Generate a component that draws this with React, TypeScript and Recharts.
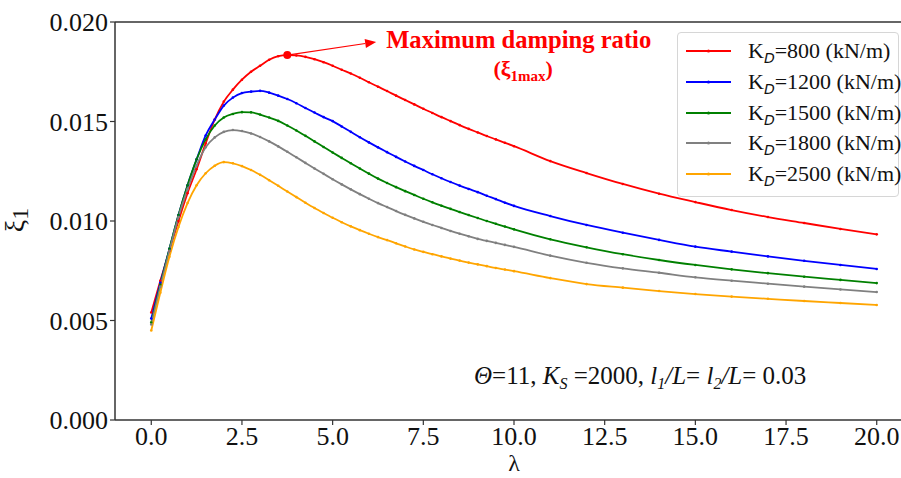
import { LineChart, Line, XAxis, YAxis, ReferenceLine, ReferenceDot, Legend } from "recharts";

// damping ratio ξ1 against λ for several damper stiffnesses K_D
const LAMBDA = [
  0, 0.25, 0.5, 0.75, 1, 1.25, 1.5, 1.75, 2, 2.25, 2.5, 2.75, 3, 3.25, 3.5, 3.75, 4, 4.25, 4.5, 4.75,
  5, 5.25, 5.5, 5.75, 6, 6.25, 6.5, 6.75, 7, 7.25, 7.5, 7.75, 8, 8.25, 8.5, 8.75, 9, 9.25, 9.5, 9.75,
  10, 11, 12, 13, 14, 15, 16, 17, 18, 19, 20,
];

const KD_800 = [
  0.0054, 0.007, 0.0085, 0.01, 0.0114, 0.0126, 0.0139, 0.0151, 0.016, 0.0166, 0.0171, 0.0175, 0.0178, 0.0181,
  0.01828, 0.01834, 0.01832, 0.01825, 0.01813, 0.01798, 0.0178, 0.0176, 0.01741, 0.0172, 0.01697, 0.01675,
  0.01653, 0.0163, 0.01608, 0.01586, 0.01564, 0.01543, 0.01522, 0.01502, 0.01482, 0.01463, 0.01445, 0.01427,
  0.0141, 0.01393, 0.01376, 0.01301, 0.01241, 0.01186, 0.01137, 0.01095, 0.01055, 0.0102, 0.0099, 0.0096, 0.00933,
];
const KD_1200 = [
  0.0051, 0.0069, 0.0086, 0.0103, 0.0118, 0.0131, 0.0143, 0.0151, 0.0158, 0.0162, 0.01643, 0.0165, 0.01654,
  0.01645, 0.0163, 0.01613, 0.01592, 0.01568, 0.01545, 0.01522, 0.01502, 0.01475, 0.01448, 0.01421, 0.01395,
  0.0137, 0.01346, 0.01322, 0.01299, 0.01277, 0.01256, 0.01235, 0.01215, 0.01196, 0.01178, 0.01161, 0.01145,
  0.01127, 0.0111, 0.01092, 0.01076, 0.01025, 0.0098, 0.00941, 0.00905, 0.00871, 0.00846, 0.00822, 0.008, 0.00779, 0.00759,
];
const KD_1500 = [
  0.0049, 0.0068, 0.0086, 0.0103, 0.0118, 0.0131, 0.0141, 0.0148, 0.0152, 0.01538, 0.01547, 0.01546, 0.01535,
  0.0152, 0.01503, 0.0148, 0.01455, 0.01428, 0.014, 0.01372, 0.01344, 0.01317, 0.0129, 0.01264, 0.01238, 0.01213,
  0.01191, 0.0117, 0.0115, 0.01131, 0.01112, 0.01094, 0.01077, 0.01061, 0.01045, 0.0103, 0.01015, 0.01, 0.00986,
  0.00972, 0.00958, 0.00908, 0.00868, 0.00833, 0.00804, 0.00779, 0.00757, 0.00738, 0.0072, 0.00704, 0.00688,
];
const KD_1800 = [
  0.0048, 0.0067, 0.0085, 0.0102, 0.0116, 0.0128, 0.0137, 0.0142, 0.01448, 0.01457, 0.01452, 0.0144, 0.01422,
  0.014, 0.01375, 0.01348, 0.0132, 0.01292, 0.01264, 0.01237, 0.0121, 0.01184, 0.01159, 0.01135, 0.01112, 0.0109,
  0.0107, 0.0105, 0.01031, 0.01013, 0.00996, 0.0098, 0.00965, 0.0095, 0.00936, 0.00923, 0.0091, 0.009, 0.0089,
  0.0088, 0.0087, 0.00826, 0.0079, 0.00762, 0.0074, 0.00717, 0.007, 0.00685, 0.0067, 0.00656, 0.00643,
];
const KD_2500 = [
  0.0045, 0.0064, 0.0082, 0.0097, 0.0109, 0.0118, 0.0124, 0.01278, 0.01296, 0.0129, 0.01276, 0.01256, 0.01232,
  0.01205, 0.01177, 0.01148, 0.0112, 0.01092, 0.01065, 0.0104, 0.01016, 0.00994, 0.00973, 0.00954, 0.00936,
  0.00919, 0.00904, 0.00888, 0.00872, 0.00857, 0.00845, 0.00833, 0.00822, 0.00811, 0.00801, 0.00791, 0.00782,
  0.00773, 0.00764, 0.00756, 0.00748, 0.00713, 0.00683, 0.00665, 0.00648, 0.00633, 0.0062, 0.00609, 0.00598, 0.00588, 0.00578,
];

const SERIES = [
  { key: "kd800", kd: "800", color: "#ff0000", values: KD_800 },
  { key: "kd1200", kd: "1200", color: "#0000ff", values: KD_1200 },
  { key: "kd1500", kd: "1500", color: "#008000", values: KD_1500 },
  { key: "kd1800", kd: "1800", color: "#808080", values: KD_1800 },
  { key: "kd2500", kd: "2500", color: "#ffa500", values: KD_2500 },
];

const X_TICKS = [0, 2.5, 5, 7.5, 10, 12.5, 15, 17.5, 20];
const Y_TICKS = [0, 0.005, 0.01, 0.015, 0.02];

// peak of the K_D=800 curve and where the callout arrow ends
const PEAK = { lam: 3.75, xi: 0.01834 };
const ARROW_END = { lam: 6.2, xi: 0.019 };

// unquoted family names: the quoted form fell back to sans here
const SERIF = "Liberation Serif, Times New Roman, serif";
const MATH_SANS = "DejaVu Sans, sans-serif";
const AXIS = "#333";

const rows = LAMBDA.map((lam, i) => {
  const r: Record<string, number> = { lam };
  SERIES.forEach((s) => (r[s.key] = s.values[i]));
  return r;
});

const seriesOrder = (item: any) => SERIES.findIndex((s) => s.key === item.dataKey);

function PeakArrow(props: any) {
  const { x1, y1, x2, y2 } = props;
  const a = Math.atan2(y2 - y1, x2 - x1);
  const len = 11;
  const half = 4.5;
  const bx = x2 - len * Math.cos(a);
  const by = y2 - len * Math.sin(a);
  const pts = [
    `${x2},${y2}`,
    `${bx - half * Math.sin(a)},${by + half * Math.cos(a)}`,
    `${bx + half * Math.sin(a)},${by - half * Math.cos(a)}`,
  ].join(" ");
  return (
    <g>
      <line x1={x1} y1={y1} x2={bx} y2={by} stroke="#ff0000" strokeWidth={1.2} />
      <polygon points={pts} fill="#ff0000" />
      <text x={x2 + 10} y={y2 + 6} fill="#ff0000" style={{ fontFamily: SERIF }} fontWeight="bold" fontSize={24.6}>
        Maximum damping ratio
      </text>
      <text x={x2 + 147} y={y2 + 34} fill="#ff0000" style={{ fontFamily: SERIF }} fontWeight="bold" fontSize={22} textAnchor="middle">
        (ξ<tspan fontSize={15} dy={5}>1max</tspan>
        <tspan dy={-5}>)</tspan>
      </text>
    </g>
  );
}

function KdLegend({ payload }: any) {
  return (
    <div
      style={{
        width: 222,
        boxSizing: "border-box",
        border: "1px solid #d6d6d6",
        borderRadius: 4,
        background: "#fff",
        padding: "3px 0 7px 0",
        fontFamily: SERIF,
        fontSize: 22,
        color: "#111",
      }}
    >
      {(payload || []).map((entry: any) => (
        <div key={entry.value} style={{ display: "flex", alignItems: "center", height: 30.7, whiteSpace: "nowrap" }}>
          <svg width={70} height={10} style={{ flex: "none" }}>
            <line x1={8} x2={53} y1={5} y2={5} stroke={entry.color} strokeWidth={2} />
            <circle cx={30.5} cy={5} r={1.6} fill={entry.color} />
          </svg>
          <span>
            K
            <span style={{ fontFamily: MATH_SANS, fontStyle: "italic", fontSize: 14, position: "relative", top: 5 }}>D</span>
            ={entry.value} (kN/m)
          </span>
        </div>
      ))}
    </div>
  );
}

const tickStyle = { fill: "#111", fontSize: 26, style: { fontFamily: SERIF } };

export default function App() {
  return (
    <div style={{ position: "absolute", left: 0, top: 0, width: 901, height: 478, overflow: "hidden", background: "#fff" }}>
      <LineChart width={913} height={478} data={rows} margin={{ top: 22, right: 0, bottom: 0, left: 0 }}>
        <XAxis
          dataKey="lam"
          type="number"
          domain={[-1, 21]}
          ticks={X_TICKS}
          tickFormatter={(v) => Number(v).toFixed(1)}
          height={58}
          tickSize={5}
          tickMargin={2}
          axisLine={{ stroke: AXIS, strokeWidth: 1.5 }}
          tickLine={{ stroke: AXIS, strokeWidth: 1.2 }}
          tick={tickStyle}
        />
        <YAxis
          type="number"
          domain={[0, 0.02]}
          ticks={Y_TICKS}
          tickFormatter={(v) => Number(v).toFixed(3)}
          width={115}
          tickSize={5}
          tickMargin={2}
          axisLine={{ stroke: AXIS, strokeWidth: 1.5 }}
          tickLine={{ stroke: AXIS, strokeWidth: 1.2 }}
          tick={tickStyle}
        />
        <ReferenceLine y={0.02} stroke={AXIS} strokeWidth={1.5} />
        <ReferenceLine x={21} stroke={AXIS} strokeWidth={1.5} />
        {SERIES.map((s) => (
          <Line
            key={s.key}
            dataKey={s.key}
            name={s.kd}
            type="monotone"
            stroke={s.color}
            strokeWidth={1.8}
            dot={{ r: 1.3, fill: s.color, stroke: s.color, strokeWidth: 0 }}
            activeDot={false}
            isAnimationActive={false}
          />
        ))}
        <ReferenceDot x={PEAK.lam} y={PEAK.xi} r={4} fill="#ff0000" stroke="none" />
        <ReferenceLine
          segment={[
            { x: PEAK.lam, y: PEAK.xi },
            { x: ARROW_END.lam, y: ARROW_END.xi },
          ]}
          shape={PeakArrow}
        />
        <Legend
          layout="horizontal"
          verticalAlign="middle"
          align="center"
          itemSorter={seriesOrder}
          content={KdLegend}
          wrapperStyle={{ left: 677, top: 32, width: 222 }}
        />
      </LineChart>
      <svg width={901} height={478} style={{ position: "absolute", left: 0, top: 0, pointerEvents: "none" }}>
        <g style={{ fontFamily: SERIF }} fill="#111">
          <text transform="rotate(-90 24 220)" x={24} y={220} textAnchor="middle" fontSize={28}>
            ξ<tspan fontSize={24} dy={4}>1</tspan>
          </text>
          <text x={514} y={471} textAnchor="middle" fontSize={24}>
            λ
          </text>
          <text x={474} y={384} fontSize={25}>
            <tspan fontStyle="italic">Θ</tspan>=11, <tspan fontStyle="italic">K</tspan>
            <tspan fontStyle="italic" fontSize={16} dy={5}>S</tspan>
            <tspan dy={-5}> =2000, </tspan>
            <tspan fontStyle="italic">l</tspan>
            <tspan fontStyle="italic" fontSize={16} dy={5}>1</tspan>
            <tspan fontStyle="italic" dy={-5}>/L</tspan>= <tspan fontStyle="italic">l</tspan>
            <tspan fontStyle="italic" fontSize={16} dy={5}>2</tspan>
            <tspan fontStyle="italic" dy={-5}>/L</tspan>= 0.03
          </text>
        </g>
      </svg>
    </div>
  );
}
